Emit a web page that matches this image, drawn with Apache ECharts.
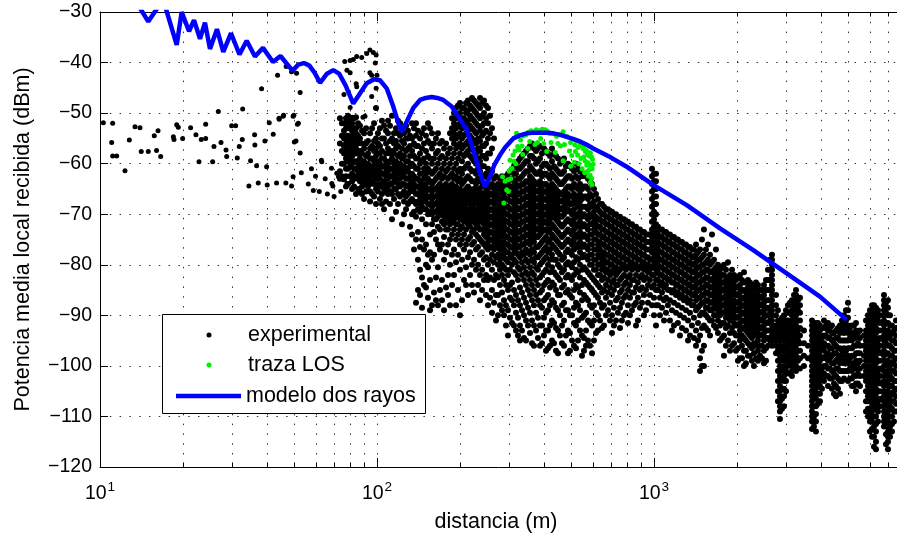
<!DOCTYPE html>
<html><head><meta charset="utf-8">
<script src="https://cdn.jsdelivr.net/npm/echarts@6/dist/echarts.min.js"></script>
<style>html,body{margin:0;padding:0;background:#fff}#c{width:897px;height:537px}</style>
</head><body><div id="c"></div>
<script>
const FONT = "'Liberation Sans', Arial, Helvetica, sans-serif";
const X_MIN = 10, X_MAX = 7540;
const Y_MIN = -120, Y_MAX = -30, Y_STEP = 10;
const xMajorTicks = [10, 100, 1000];
const xMinorTicks = [20,30,40,50,60,70,80,90,200,300,400,500,600,700,800,900,2000,3000,4000,5000,6000,7000];
const yTicks = [-120,-110,-100,-90,-80,-70,-60,-50,-40,-30];
const seriesNames = ['experimental', 'traza LOS', 'modelo dos rayos'];
const xTitle = 'distancia (m)';
const yTitle = 'Potencia media local recibida (dBm)';

// two-ray model curve [distance m, dBm]
const modelCurve = [[13.0,-26.5],[14.94,-31.9],[16.9,-27.5],[18.92,-36.5],[19.72,-30.0],[20.96,-33.8],[21.85,-31.6],[22.96,-35.3],[23.93,-32.1],[24.95,-37.3],[26.44,-33.4],[27.87,-37.9],[29.72,-34.2],[31.88,-38.4],[33.85,-35.7],[36.27,-38.8],[38.77,-37.1],[42.13,-39.9],[44.83,-38.7],[49.54,-41.6],[52,-40.4],[54.5,-40.1],[57,-40.6],[59.5,-42.0],[62.27,-44.0],[66,-42.2],[69.5,-41.5],[73,-42.2],[77,-44.5],[82.1,-48.1],[86.8,-46.1],[91.8,-44.1],[97.5,-43.3],[102.5,-43.5],[108.4,-45.1],[114.5,-48.7],[119.4,-52.0],[122.8,-53.7],[128.0,-51.7],[135.2,-49.0],[143.0,-47.4],[150,-47.0],[157.6,-46.8],[165,-47.0],[173.5,-47.4],[186.1,-48.7],[196.6,-50.7],[210.8,-53.3],[222.7,-57.3],[235.4,-61.9],[245.4,-64.6],[255.9,-62.6],[265,-60.3],[278,-58.3],[290,-56.8],[310.5,-55.0],[328,-54.4],[347.1,-54.0],[365,-53.9],[387.7,-53.9],[410,-53.9],[433,-54.0],[460,-54.3],[483.9,-54.7],[510,-55.1],[540.6,-55.6],[570,-56.2],[603.7,-57.0],[700,-58.8],[797,-60.6],[994,-64.2],[1313,-68.2],[1731,-72.8],[2283,-77.1],[3014,-81.7],[3975,-86.3],[4963,-90.9]];

// LOS trace [distance m, dBm]
const losPoints = [[284,-62.6],[287,-67.8],[290,-63.5],[294,-65.2],[297,-63.2],[300,-61.5],[302,-59.3],[305,-61],[307,-60.9],[310,-58.3],[312,-59.5],[315,-57.5],[319,-54.0],[322,-56.6],[326,-57.3],[330,-55.3],[334,-56.5],[338,-54.5],[345,-54.3],[352,-53.8],[360,-53.5],[368,-53.7],[376,-53.3],[385,-53.5],[395,-53.2],[405,-53.3],[412,-53.6],[420,-54.0],[432,-54.1],[445,-54.6],[458,-54.3],[470,-53.7],[484,-54.6],[350,-57.0],[372,-56.2],[390,-55.0],[410,-57.6],[440,-57.8],[460,-56.5],[470,-59.4],[500,-55.8],[510,-55.2],[518,-56.3],[525,-55.5],[532,-56.8],[540,-55.9],[548,-56.4],[554,-57.0],[560,-56.5],[565,-57.6],[570,-57.4],[575,-58.2],[580,-57.8],[585,-58.5],[590,-57.9],[595,-58.7],[600,-59.2],[603,-60.1],[598,-61.0],[592,-60.5],[585,-61.2],[578,-59.8],[572,-60.3],[565,-59.5],[558,-58.7],[588,-62.3],[595,-62.9],[580,-62.5],[545,-59.0],[530,-58.3],[515,-59.7],[500,-60.5],[298,-65.5],[304,-63],[317,-60],[336,-58.2],[356,-55.6],[380,-55.8],[400,-56],[425,-55.8],[450,-56],[475,-56.2],[495,-57.5],[505,-58.4],[520,-57.6],[535,-60],[550,-61],[562,-61.8],[575,-61.5],[598,-64.1],[590,-63.7]];

// experimental, sparse part [distance m, dBm]
const expSparse = [[10.28,-51.9],[11.11,-52.0],[11.02,-55.8],[11.11,-58.5],[11.49,-58.5],[12.31,-61.4],[12.76,-55.3],[13.38,-52.7],[13.94,-52.9],[14.09,-57.6],[14.94,-57.6],[15.70,-54.5],[16.20,-53.5],[16.0,-57.4],[16.56,-58.6],[18.40,-54.7],[18.5,-55.2],[18.92,-52.3],[19.17,-52.8],[19.88,-55.0],[21.24,-52.9],[22.20,-54.3],[22.77,-59.6],[23.21,-55.2],[24.07,-55.0],[24.07,-52.2],[25.51,-59.6],[25.79,-56.6],[26.74,-49.7],[27.34,-55.8],[28.51,-57.3],[28.67,-58.6],[29.88,-52.5],[30.89,-52.5],[31.30,-58.9],[31.83,-56.6],[32.63,-55.2],[32.74,-49.2],[34.49,-64.4],[34.97,-59.4],[36.15,-54.3],[36.24,-56.3],[36.76,-60.4],[37.26,-63.8],[38.31,-45.2],[39.39,-55.5],[39.95,-60.6],[40.15,-64.2],[40.83,-51.9],[42.21,-54.2],[43.40,-63.8],[43.76,-42.5],[44.34,-51.2],[45.84,-50.6],[46.88,-63.8],[49.16,-64.4],[47.0,-40.8],[49.16,-41.8],[51.25,-42.1],[50.11,-50.4],[51.6,-52.2],[49.8,-62.6],[50.3,-55.7],[52.8,-45.9],[51.0,-55.5],[52.8,-57.9],[53.3,-61.8],[56.5,-64.0],[58.9,-65.3],[61.9,-65.5],[63.2,-59.6],[66.2,-66.0],[68.7,-63.9],[69.3,-64.4],[71.6,-61.9],[72.6,-62.6],[75.4,-63.1],[77.9,-63.9],[52,-52],[63,-59.3],[68.5,-60.9],[60,-62.5],[65,-63],[70,-66.5],[74,-65.5],[58,-61],[76.5,-39.8],[80,-39.6],[82.1,-39.4],[84.5,-38.8],[88.1,-39.0],[91.8,-38.2],[94.3,-37.5],[97.0,-38.0],[99.3,-38.5],[77.9,-41.5],[80,-42.0],[84.1,-44.2],[84.5,-44.8],[94.3,-42.0],[95.7,-42.5],[98.6,-40.1],[100,-42.5],[99.3,-45.1],[95.7,-46.7],[76,-46.3],[80,-48.9],[81.5,-50.8],[89,-50.8],[90.5,-50.6],[44.3,-51.0],[46,-50.4],[49.8,-50.6]];

// experimental, dense part: [distance m, [dBm values at that distance]]
const expColumns = [
[73.5,[-51,-56,-61.5,-63]],
[76,[-52,-53.5,-55,-56.5,-58,-60,-63.1]],
[78.6,[-50.5,-52,-53,-54.5,-55.5,-57,-58.5,-59.5,-61,-64]],
[81.3,[-52,-53.5,-54.5,-56,-57,-58.5,-60,-62,-63.5,-65]],
[84,[-50.8,-53,-54,-55.5,-57,-58,-59.5,-61,-62.5,-66]],
[86.8,[-52.5,-55,-57.5,-59,-60.5,-62,-63.5,-65.5]],
[89.8,[-54,-57,-59.5,-61,-62.5,-64,-67]],
[92.8,[-55.5,-58,-60,-61.5,-63,-64.5]],
[96,[-53,-56.5,-59,-60.5,-62,-63.5,-66]],
[99.2,[-49,-55,-57,-58.5,-60,-61.5,-63,-65,-68]],
[102.5,[-53,-56.5,-58,-60,-61.5,-63,-64.5,-67]],
[106,[-52.5,-55,-59,-60.5,-62,-63.5,-65,-69]],
[109.6,[-51.5,-54,-57,-60,-61.5,-63,-64.5,-66]],
[113.3,[-50.5,-55,-57.5,-59,-61,-62.5,-64,-66,-71]],
[117.1,[-53,-55.5,-57,-59.5,-61,-63,-65,-69.5]],
[121.1,[-52,-54.5,-58,-60,-61.5,-63,-64.5,-66.5]],
[125.2,[-54,-56,-58.5,-60.5,-62,-64,-65.5,-67.5,-70]],
[129.4,[-53.5,-55,-57,-59.5,-61.5,-63,-64.5,-66,-68]],
[133.8,[-52,-55,-57.5,-60,-62,-63.5,-65,-67,-70,-74]],
[138.3,[-52,-54.5,-56.5,-59,-61,-63,-64.5,-66,-68,-70.5,-75,-87.5]],
[143,[-55,-58,-60,-62,-63.5,-65,-66.5,-68,-69.5,-76.5,-81,-86]],
[147.8,[-53,-56,-59,-61,-63,-64.5,-66,-67.5,-69,-77,-84]],
[152.8,[-52,-55.5,-58.5,-61,-63,-65,-66.5,-68,-70,-78,-80.5,-86.5]],
[158,[-54,-57,-60,-62,-64,-65.5,-67,-68.5,-70,-72,-79,-88]],
[163.3,[-55,-58,-61,-63,-65,-66.5,-68,-69.5,-71,-75,-82.5,-87]],
[168.8,[-56,-59,-62,-64,-65.5,-67,-68.5,-70,-73,-77,-85]],
[174.6,[-57,-60,-62.5,-64.5,-66,-67.5,-69,-70.5,-72,-74.5,-79,-89]],
[180.5,[-58,-61,-63,-65,-66.5,-68,-69.5,-71,-73,-76,-82,-86]],
[186.6,[-51,-53,-55,-59,-62,-64,-65.5,-67,-68.5,-70,-71.5,-74,-78,-84]],
[192.9,[-49,-51,-53,-55,-57,-60,-62.5,-64.5,-66,-67.5,-69,-70.5,-72,-75,-79.5,-88]],
[199.4,[-48,-50,-52,-54,-56,-58,-61,-63,-65,-66.5,-68,-69.5,-71,-73,-76,-81,-90]],
[206.1,[-49,-51,-52.5,-54.5,-56.5,-58.5,-61,-63.5,-65.5,-67,-68.5,-70,-71.5,-74,-77,-83]],
[213.1,[-47.5,-49.5,-51.5,-53.5,-55.5,-57.5,-60,-62.5,-64.5,-66,-67.5,-69,-70.5,-72,-75,-78.5,-86]],
[220.3,[-47,-49,-51,-53,-55,-57,-59,-61.5,-63.5,-65.5,-67,-68.5,-70,-71.5,-73.5,-76,-80,-84]],
[227.8,[-48,-50,-52,-54,-56,-58,-60,-62,-64,-66,-67.5,-69,-70.5,-72,-74,-77,-81]],
[235.5,[-47,-49,-51,-53.5,-55.5,-57.5,-59.5,-61.5,-63.5,-65.5,-67,-68.5,-70,-71.5,-73,-75,-78,-82,-87]],
[243.4,[-47.5,-50,-52,-54,-56.5,-58.5,-60.5,-62.5,-64.5,-66,-67.5,-69,-70.5,-72,-74,-76,-79,-83]],
[251.6,[-49,-52,-55,-58,-61,-63,-65,-66.5,-68,-69.5,-71,-72.5,-74,-75.5,-77,-80,-83,-88]],
[260.1,[-53,-57,-61.5,-64,-66,-67.5,-69,-70.5,-72,-73.5,-75,-76.5,-78,-81,-85,-89.5]],
[268.9,[-62.5,-64.5,-66,-67.5,-69,-70.5,-72,-73.5,-75,-76.5,-78.5,-82,-86,-91]],
[278,[-63,-65,-66.5,-68,-69.5,-71,-72.5,-74,-75.5,-77,-79,-81,-84,-88]],
[287.4,[-63.5,-65,-66.5,-68,-69.5,-71,-72.5,-74,-75.5,-77,-78.5,-80.5,-83,-87,-90]],
[297.1,[-62,-64,-65.5,-67,-68.5,-70,-71.5,-73,-74.5,-76,-77.5,-79.5,-82,-85,-89,-94]],
[307.2,[-61,-63,-64.5,-66,-67.5,-69,-70.5,-72,-73.5,-75,-76.5,-78,-80,-83.5,-87,-91.5]],
[317.6,[-60,-62,-64,-65.5,-67,-68.5,-70,-71.5,-73,-74.5,-76,-77.5,-79.5,-82,-86,-89.5,-93]],
[328.2,[-59,-61,-63,-64.5,-66,-67.5,-69,-70.5,-72,-73.5,-75,-76.5,-78.5,-81,-84.5,-88,-92,-95]],
[339.4,[-58,-60,-62,-64,-65.5,-67,-68.5,-70,-71.5,-73,-74.5,-76,-78,-80.5,-83,-86.5,-90,-94.5]],
[350.9,[-57,-59.5,-61.5,-63.5,-65,-66.5,-68,-69.5,-71,-72.5,-74,-75.5,-77.5,-79.5,-82,-85,-88.5,-92]],
[362.7,[-56,-58.5,-61,-63,-64.5,-66,-67.5,-69,-70.5,-72,-73.5,-75,-77,-79,-81.5,-84,-87,-91,-95.5]],
[375,[-57.5,-60,-62,-64,-65.5,-67,-68.5,-70,-71.5,-73,-74.5,-76.5,-78.5,-80.5,-83,-86,-89.5,-93]],
[387.7,[-56.5,-59,-61.5,-63.5,-65,-66.5,-68,-69.5,-71,-72.5,-74,-76,-78,-80,-82.5,-85.5,-88,-92,-96]],
[400.8,[-57,-60,-62,-64,-65.5,-67,-68.5,-70,-71.5,-73,-75,-77,-79,-81.5,-84,-87,-90.5,-94]],
[414.3,[-58,-60.5,-62.5,-64.5,-66,-67.5,-69,-70.5,-72,-73.5,-75.5,-77.5,-80,-83,-86,-89,-93,-96.5]],
[428.3,[-57,-59.5,-62,-64,-65.5,-67,-68.5,-70,-72,-74,-76,-78,-80.5,-83.5,-87,-91,-95]],
[442.8,[-58.5,-61,-63,-65,-66.5,-68,-69.5,-71,-73,-75,-77,-79,-82,-85,-88.5,-92.5,-97]],
[457.7,[-60,-62,-64,-66,-67.5,-69,-70.5,-72,-74,-76,-78,-80.5,-83,-86,-90,-94]],
[473.2,[-59,-61.5,-63.5,-65.5,-67,-68.5,-70,-72,-74,-76,-78.5,-81,-84,-87.5,-91,-96]],
[489.2,[-60,-62.5,-64.5,-66,-67.5,-69,-71,-73,-75,-77,-79.5,-82,-85,-89,-93,-97.5]],
[505.8,[-61,-63,-65,-66.5,-68,-70,-72,-74,-76,-78,-80.5,-83,-86.5,-90,-95]],
[522.9,[-60,-62.5,-64.5,-66.5,-68,-70,-72,-74,-76,-78.5,-81,-84,-87.5,-92,-96.5]],
[540.6,[-61.5,-64,-66,-67.5,-69.5,-71.5,-73.5,-75.5,-77.5,-80,-82.5,-85.5,-89,-93]],
[558.8,[-62,-64.5,-66.5,-68.5,-70,-72,-74,-76,-78,-80.5,-83,-86,-90,-94.5,-97]],
[577.8,[-63,-65,-67,-69,-71,-73,-75,-77,-79,-81.5,-84,-87,-91,-95]],
[597.3,[-64,-66.5,-68.5,-70.5,-72,-74,-76,-78,-80,-82.5,-85,-88.5,-92,-97.5]],
[617.5,[-66,-68.5,-70.5,-72,-73.5,-75,-77,-79,-81,-83.5,-86,-89.5,-93.5]],
[638.3,[-68,-69.5,-71,-72.5,-74,-75.5,-77,-78.5,-80,-82,-84.5,-87.5,-91]],
[659.9,[-68.5,-70,-71.5,-73,-74.5,-76,-77.5,-79,-80.5,-82.5,-85,-88,-92]],
[682.3,[-69,-70.5,-72,-73.5,-75,-76.5,-78,-79.5,-81,-83,-85.5,-89]],
[705.3,[-69.5,-71,-72.5,-74,-75.5,-77,-78.5,-80,-81.5,-83.5,-86,-90,-93.5]],
[729.2,[-70,-71.5,-73,-74.5,-76,-77.5,-79,-80.5,-82,-84,-87,-91]],
[753.8,[-70.5,-72,-73.5,-75,-76.5,-78,-79.5,-81,-83,-85.5,-88.5,-92.5]],
[779.3,[-71,-72.5,-74,-75.5,-77,-78.5,-80,-82,-84,-86.5,-90]],
[805.7,[-71.5,-73,-74.5,-76,-77.5,-79,-80.5,-82.5,-85,-88,-91.5]],
[832.9,[-72,-73.5,-75,-76.5,-78,-79.5,-81,-83,-85.5,-89]],
[861.1,[-72.5,-74,-75.5,-77,-78.5,-80,-82,-84.5,-87.5,-92]],
[890.2,[-73,-74.5,-76,-77.5,-79,-80.5,-82.5,-85,-88.5]],
[920.4,[-73.5,-75,-76.5,-78,-79.5,-81,-83,-86,-90]],
[951.4,[-74,-75.5,-77,-78.5,-80,-81.5,-84,-87.5]],
[983.5,[-61,-62.5,-64,-65.5,-67,-68.5,-70,-71.5,-73,-74.5,-76,-77.5,-79,-80.5,-82,-84.5,-88]],
[1017,[-62,-63.5,-65,-66.5,-68,-70,-72,-73.5,-75,-76.5,-78,-79.5,-81,-83,-85,-88,-92]],
[1051,[-73,-74.5,-76,-77.5,-79,-80.5,-82,-84,-86.5,-90]],
[1087,[-73.5,-75,-76.5,-78,-79.5,-81,-82.5,-84.5,-87,-91]],
[1123,[-74,-75.5,-77,-78.5,-80,-81.5,-83,-85,-88]],
[1161,[-74.5,-76,-77.5,-79,-80.5,-82,-83.5,-85.5,-89,-93]],
[1201,[-75,-76.5,-78,-79.5,-81,-82.5,-84,-86,-89.5]],
[1241,[-75.5,-77,-78.5,-80,-81.5,-83,-84.5,-86.5,-90,-94]],
[1283,[-76,-77.5,-79,-80.5,-82,-83.5,-85,-87,-90.5]],
[1327,[-76.5,-78,-79.5,-81,-82.5,-84,-85.5,-87.5,-91,-95]],
[1371,[-77,-78.5,-80,-81.5,-83,-84.5,-86,-88,-92]],
[1418,[-76,-78,-79.5,-81,-82.5,-84,-85.5,-87,-89,-93,-96]],
[1466,[-77,-79,-80.5,-82,-83.5,-85,-86.5,-88,-90,-94,-98.5,-101]],
[1515,[-73,-78,-80,-81.5,-83,-84.5,-86,-87.5,-89.5,-92,-96,-100]],
[1566,[-76,-79,-81,-82.5,-84,-85.5,-87,-88.5,-90.5,-93]],
[1620,[-74,-79.5,-81.5,-83,-84.5,-86,-87.5,-89,-91]],
[1674,[-77,-80.5,-82,-83.5,-85,-86.5,-88,-90,-92.5]],
[1731,[-81,-82.5,-84,-85.5,-87,-88.5,-90,-92,-95]],
[1789,[-80,-82,-83.5,-85,-86.5,-88,-89.5,-91.5,-94,-98]],
[1850,[-79.5,-82.5,-84,-85.5,-87,-88.5,-90,-92,-95]],
[1913,[-81,-83,-84.5,-86,-87.5,-89,-90.5,-92.5,-96]],
[1977,[-83,-84.5,-86,-87.5,-89,-90.5,-92,-94,-97]],
[2044,[-82,-84,-85.5,-87,-88.5,-90,-91.5,-93,-95,-98.5]],
[2113,[-81.5,-83.5,-85,-86.5,-88,-89.5,-91,-92.5,-94.5,-97,-100]],
[2184,[-83,-84.5,-86,-87.5,-89,-90.5,-92,-93.5,-95.5,-98]],
[2258,[-84,-85.5,-87,-88.5,-90,-91.5,-93,-94.5,-96.5,-99]],
[2335,[-83.5,-85,-86.5,-88,-89.5,-91,-92.5,-94,-96,-98.5]],
[2414,[-85,-86.5,-88,-89.5,-91,-92.5,-94,-96,-98]],
[2495,[-84,-86,-87.5,-89,-90.5,-92,-93.5,-95,-97,-99.5]],
[2580,[-81,-83,-85,-87,-88.5,-90,-91.5,-93,-94.5,-96]],
[2667,[-78,-79,-80,-81,-82,-83,-84,-85,-86,-87,-88,-89,-90,-91,-92,-93,-94,-95,-96]],
[2757,[-86,-88,-90,-92,-93,-94,-95,-96,-97.5]],
[2850,[-91,-92,-93,-94,-95,-96,-97,-98,-99,-100,-101,-102,-103,-104,-105,-106,-107,-108,-109,-110.5]],
[2947,[-90,-91,-92,-93,-94,-95,-96,-97,-98,-99,-100,-101,-102,-103,-104.5,-106,-108]],
[3046,[-88,-89.5,-91,-92,-93,-94,-95,-96,-97,-98,-99,-100,-101.5]],
[3149,[-87,-88,-89,-90,-91,-92,-93,-94,-95,-96,-97,-98,-99,-100,-101,-102]],
[3256,[-85,-86,-87,-88,-89,-90,-91,-92,-93,-94,-95,-96,-97,-98,-99,-100,-101]],
[3366,[-86.5,-88,-89.5,-91,-92.5,-94,-95.5,-97,-98.5,-100.5]],
[3479,[-93,-95.5,-98,-100]],
[3597,[-96,-98.5]],
[3719,[-91,-92,-93,-94,-95,-96,-97,-98,-99,-100,-101,-102,-103,-104,-105,-106,-107,-108,-109,-110,-111,-112.5]],
[3844,[-91.5,-92.5,-93.5,-94.5,-95.5,-96.5,-97.5,-98.5,-99.5,-100.5,-101.5,-102.5,-103.5,-104.5,-105.5,-106.5,-108,-109.5,-111,-113]],
[3974,[-92,-93,-94,-95,-96,-97,-98,-99,-100,-101,-102,-103,-104,-105.5,-107]],
[4109,[-91,-92.5,-94,-95.5,-97,-98.5,-100,-101.5,-103]],
[4248,[-91.5,-93,-94.5,-96,-97.5,-99,-100.5,-102,-104]],
[4391,[-92,-93.5,-95,-96.5,-98,-99.5,-101,-102.5,-104.5]],
[4540,[-93,-94.5,-96,-97.5,-99,-100.5,-102,-104,-106]],
[4693,[-92,-93.5,-95,-96.5,-98,-99.5,-101,-103,-105.5]],
[4852,[-90,-92,-93.5,-95,-96.5,-98,-99.5,-101,-102.5]],
[5016,[-87.5,-89,-90.5,-92,-93.5,-95,-96.5,-98,-99.5,-101,-103]],
[5185,[-92,-93.5,-95,-96.5,-98,-99.5,-101,-102.5,-104]],
[5361,[-91.5,-93,-94.5,-96,-97.5,-99,-100.5,-102,-103.5,-105]],
[5542,[-93,-94.5,-96,-97.5,-99,-100.5,-102,-104]],
[5729,[-94,-96,-98,-100,-102]],
[5923,[-90,-91,-92,-93,-94,-95,-96,-97,-98,-99,-100,-101,-102,-103,-104,-105,-106,-107,-108.5,-110]],
[6124,[-88,-89,-90,-91,-92,-93,-94,-95,-96,-97,-98,-99,-100,-101,-102,-103,-104,-105,-106,-107,-108,-109,-110,-111,-112.5,-114]],
[6331,[-88.5,-89.5,-90.5,-91.5,-92.5,-93.5,-94.5,-95.5,-96.5,-97.5,-98.5,-99.5,-100.5,-101.5,-102.5,-103.5,-104.5,-105.5,-106.5,-107.5,-108.5,-110,-111.5,-113,-115,-116.5]],
[6545,[-90,-91.5,-93,-94.5,-96,-97.5,-99,-100.5,-102,-103.5,-105,-106.5,-108]],
[6766,[-86,-87,-88,-89,-90,-91,-92,-93,-94,-95,-96,-97,-98,-99,-100,-101,-102,-103,-104,-105,-106,-107,-108,-109,-110,-111,-112]],
[6995,[-87,-88.5,-90,-91.5,-93,-94.5,-96,-97.5,-99,-100,-101,-102,-103,-104,-105,-106,-107,-108,-109,-110,-111,-112,-113,-114,-115,-116.5]],
[7232,[-92,-93.5,-95,-96.5,-98,-99.5,-101,-102.5,-104,-105.5,-107,-108.5,-110,-111.5,-113]],
[7476,[-91,-92.5,-94,-95.5,-97,-98.5,-100,-101.5,-103,-104.5,-106,-107.5,-109]]
];

// experimental, dense part, in-between columns
const expColumnsB = [
[74.7,[-52,-54.5,-57.5,-60,-62.5]],
[77.3,[-51,-53,-54.5,-56,-57.5,-59,-61,-62.5,-64.5]],
[79.9,[-51.5,-53,-55,-56.5,-58,-59,-60.5,-62.5]],
[82.6,[-51,-53,-55,-56.5,-58,-59.5,-61,-63,-64.5]],
[85.4,[-52,-54.5,-56,-58,-60,-61.5,-63,-65]],
[88.3,[-53.5,-56,-58,-60,-61.5,-63,-64.5,-66]],
[91.3,[-53,-56,-58.5,-60.5,-62,-63.5,-65.5]],
[94.4,[-54,-57,-59,-61,-62.5,-64,-65.5,-67.5]],
[97.6,[-52,-55.5,-57.5,-59.5,-61,-62.5,-64,-66.5]],
[100.8,[-54,-56,-58,-59.5,-61,-62.5,-64,-65.5]],
[104.2,[-51.5,-55,-57.5,-59,-60.5,-62,-64,-66,-68]],
[107.8,[-53.5,-56,-58,-59.5,-61,-62.5,-64,-65.5,-67.5]],
[111.4,[-52.5,-55.5,-58,-59.5,-61,-62.5,-64,-65.5,-68]],
[115.2,[-54,-56,-58,-60,-62,-63.5,-65,-67]],
[119.1,[-51.5,-54,-56.5,-58.5,-60.5,-62,-64,-66,-68]],
[123.1,[-53,-55.5,-57,-59,-61,-62.5,-64,-66,-72]],
[127.3,[-52.5,-55,-57.5,-59.5,-61,-63,-64.5,-66.5,-69]],
[131.6,[-54.5,-56.5,-58.5,-60.5,-62.5,-64,-65.5,-67.5,-72.5]],
[136,[-53,-56,-58.5,-60.5,-62.5,-64,-65.5,-67.5,-69.5,-77]],
[140.6,[-53.5,-56.5,-59,-61,-63,-64.5,-66,-67.5,-69,-73.5,-79,-85]],
[145.4,[-54,-57,-59.5,-62,-64,-65.5,-67,-68.5,-71,-75,-82.5,-88.5]],
[150.3,[-54.5,-57.5,-60,-62,-64,-65.5,-67,-69,-72,-76,-80,-84.5]],
[155.4,[-53,-56,-59,-61.5,-63.5,-65,-66.5,-68,-69.5,-74,-77.5,-83,-89]],
[160.6,[-56,-59,-61.5,-63.5,-65,-66.5,-68,-69.5,-71,-73.5,-78,-85.5]],
[166,[-54,-57.5,-60,-62.5,-64.5,-66,-67.5,-69,-70.5,-72.5,-76,-80.5,-88]],
[171.6,[-55.5,-58.5,-61,-63,-65,-66.5,-68,-69.5,-71.5,-76,-83,-87]],
[177.5,[-56,-59,-61.5,-64,-65.5,-67,-68.5,-70,-71.5,-73,-77.5,-84.5]],
[183.5,[-54,-57,-60,-62.5,-64.5,-66,-67.5,-69,-70.5,-72,-75,-80,-88]],
[189.7,[-50,-52,-54,-56,-58,-61,-63,-65,-66.5,-68,-69.5,-71,-73,-77,-82]],
[196.1,[-48.5,-50.5,-52.5,-54.5,-56.5,-59,-61.5,-63.5,-65.5,-67,-68.5,-70,-72,-74,-78,-85]],
[202.7,[-49,-51,-53,-55,-57,-59.5,-62,-64,-66,-67.5,-69,-70.5,-72.5,-75,-79,-87]],
[209.6,[-48,-50,-52,-54,-56,-58,-60.5,-63,-65,-66.5,-68,-69.5,-71,-73,-76,-80.5,-84]],
[216.7,[-48.5,-50.5,-52.5,-54.5,-56.5,-58.5,-61,-63,-65,-66.5,-68,-69.5,-71,-72.5,-74.5,-77.5,-82]],
[224,[-47.5,-49.5,-51.5,-53.5,-55.5,-57.5,-59.5,-61.5,-63.5,-65,-66.5,-68,-69.5,-71,-73,-75.5,-79,-85.5]],
[231.6,[-48.5,-50.5,-52.5,-55,-57,-59,-61,-63,-65,-66.5,-68,-69.5,-71,-72.5,-74.5,-76.5,-80,-84]],
[239.5,[-48,-50.5,-52.5,-54.5,-56.5,-58.5,-60.5,-62.5,-64.5,-66.5,-68,-69.5,-71,-73,-75.5,-77.5,-81,-85]],
[247.5,[-48.5,-51,-53.5,-56,-59,-62,-64,-65.5,-67,-68.5,-70,-71.5,-73,-74.5,-76.5,-78.5,-82,-86]],
[255.8,[-50.5,-54,-58,-62,-64.5,-66,-67.5,-69,-70.5,-72,-73.5,-75,-76.5,-79,-82.5,-86.5]],
[264.5,[-55,-63,-65,-66.5,-68,-69.5,-71,-72.5,-74,-75.5,-77,-79.5,-83,-87.5]],
[273.4,[-64,-65.5,-67,-68.5,-70,-71.5,-73,-74.5,-76,-78,-80,-82.5,-86,-90]],
[282.7,[-62.5,-64,-65.5,-67,-68.5,-70,-71.5,-73,-74.5,-76,-78,-80,-82,-85.5,-89]],
[292.2,[-62.5,-64,-65.5,-67,-68.5,-70,-71.5,-73,-74.5,-76,-77.5,-79,-81,-84,-88,-92]],
[302.1,[-61.5,-63,-64.5,-66,-67.5,-69,-70.5,-72,-73.5,-75,-76.5,-78.5,-81,-84,-86.5,-90.5]],
[312.3,[-60.5,-62,-63.5,-65,-66.5,-68,-69.5,-71,-72.5,-74,-75.5,-77,-79,-81.5,-85,-88,-92]],
[322.9,[-59.5,-61,-63,-64.5,-66,-67.5,-69,-70.5,-72,-73.5,-75,-76.5,-78,-80.5,-83,-87,-90.5,-94]],
[333.7,[-58.5,-60.5,-62.5,-64,-65.5,-67,-68.5,-70,-71.5,-73,-74.5,-76,-77.5,-79.5,-82,-85.5,-89,-93]],
[345.1,[-57.5,-59.5,-61.5,-63.5,-65,-66.5,-68,-69.5,-71,-72.5,-74,-75.5,-77,-79,-81.5,-84,-87.5,-91,-95]],
[356.8,[-56.5,-58.5,-60.5,-62.5,-64,-65.5,-67,-68.5,-70,-71.5,-73,-74.5,-76,-78,-80.5,-83,-86,-89.5,-93.5]],
[368.8,[-57,-59,-61.5,-63.5,-65,-66.5,-68,-69.5,-71,-72.5,-74,-75.5,-77.5,-79.5,-82,-85,-88,-92,-96]],
[381.3,[-57,-59.5,-62,-64,-65.5,-67,-68.5,-70,-71.5,-73,-74.5,-76.5,-78.5,-81,-84,-87,-90.5,-94.5]],
[394.2,[-58,-60.5,-62.5,-64.5,-66,-67.5,-69,-70.5,-72,-73.5,-75.5,-77.5,-79.5,-82,-85,-88.5,-92,-95.5]],
[407.5,[-57.5,-60,-62,-64,-65.5,-67,-68.5,-70,-71.5,-73,-74.5,-76.5,-78.5,-81,-83.5,-86.5,-89.5,-93,-97]],
[421.3,[-58.5,-61,-63,-65,-66.5,-68,-69.5,-71,-73,-75,-77,-79,-81.5,-84.5,-88,-92,-96]],
[435.5,[-58,-60.5,-62.5,-64.5,-66,-67.5,-69,-70.5,-72.5,-74.5,-76.5,-79,-81.5,-84,-87.5,-91.5,-95.5]],
[450.2,[-59,-61.5,-63.5,-65.5,-67,-68.5,-70,-71.5,-73.5,-75.5,-77.5,-80,-82.5,-86,-89,-93,-97.5]],
[465.4,[-59.5,-62,-64,-66,-67.5,-69,-70.5,-72.5,-74.5,-76.5,-79,-81.5,-84.5,-88,-92,-95.5]],
[481.1,[-60.5,-63,-65,-66.5,-68,-69.5,-71.5,-73.5,-75.5,-77.5,-80,-82.5,-85.5,-89,-94]],
[497.4,[-60.5,-62.5,-64.5,-66.5,-68,-69.5,-71.5,-73.5,-75.5,-77.5,-80,-82.5,-86,-90,-93.5,-97]],
[514.3,[-61.5,-64,-66,-67.5,-69,-71,-73,-75,-77,-79.5,-82,-85,-88.5,-91.5,-96]],
[531.7,[-61,-63,-65,-67,-68.5,-70.5,-72.5,-74.5,-76.5,-79,-81.5,-84.5,-88,-91,-95]],
[549.7,[-62.5,-65,-67,-68.5,-70.5,-72.5,-74.5,-76.5,-78.5,-81,-84,-87,-90.5,-94,-98]],
[568.2,[-62.5,-64.5,-66.5,-68.5,-70.5,-72.5,-74.5,-76.5,-78.5,-81,-83.5,-86.5,-89.5,-93,-96]],
[587.4,[-63.5,-66,-68,-70,-72,-74,-76,-78,-80,-82,-84.5,-88,-91.5,-96]],
[607.3,[-65,-67.5,-69.5,-71.5,-73,-75,-77,-79,-81,-83,-85.5,-88,-91,-95]],
[627.9,[-67,-69,-71,-72.5,-74,-76,-78,-80,-82,-84,-86.5,-90,-93]],
[649,[-68,-70,-71.5,-73,-74.5,-76,-78,-79.5,-81,-83,-85.5,-88.5,-92.5]],
[671,[-69,-70.5,-72,-73.5,-75,-76.5,-78,-79.5,-81.5,-84,-86.5,-90]],
[694,[-69.5,-71,-72.5,-74,-75.5,-77,-78.5,-80,-82,-84.5,-87.5,-91]],
[717,[-70,-71.5,-73,-74.5,-76,-77.5,-79,-81,-83,-85,-88.5,-92]],
[741,[-70.5,-72,-73.5,-75,-76.5,-78,-79.5,-81.5,-84,-86.5,-89.5]],
[766,[-71,-72.5,-74,-75.5,-77,-78.5,-80.5,-82.5,-85,-87.5,-91]],
[792,[-71.5,-73,-74.5,-76,-77.5,-79,-81,-83.5,-86,-89.5]],
[819,[-72,-73.5,-75,-76.5,-78,-80,-82,-84,-86.5,-90]],
[847,[-72.5,-74,-75.5,-77,-78.5,-80.5,-83,-85.5,-88]],
[875,[-73,-74.5,-76,-77.5,-79,-81,-83.5,-86.5,-91]],
[905,[-73.5,-75,-76.5,-78,-80,-82,-84.5,-87.5]],
[936,[-74,-75.5,-77,-78.5,-80.5,-82.5,-85,-89]],
[967,[-74,-75.5,-77,-79,-81,-83,-86]],
[1000,[-62,-63.5,-65,-66.5,-68,-69.5,-71,-72.5,-74,-75.5,-77,-78.5,-80,-82,-84,-86.5,-90]],
[1034,[-72.5,-74,-75.5,-77,-78.5,-80,-81.5,-83,-85,-88]],
[1069,[-73,-74.5,-76,-77.5,-79,-80.5,-82,-83.5,-85.5,-88.5]],
[1105,[-73.5,-75,-76.5,-78,-79.5,-81,-82.5,-84,-86.5,-89.5]],
[1142,[-74,-75.5,-77,-78.5,-80,-81.5,-83,-85,-87,-91]],
[1181,[-74.5,-76,-77.5,-79,-80.5,-82,-83.5,-85,-87.5,-92]],
[1220,[-75,-76.5,-78,-79.5,-81,-82.5,-84,-85.5,-88,-91.5]],
[1262,[-75.5,-77,-78.5,-80,-81.5,-83,-84.5,-86,-88.5,-92.5]],
[1305,[-76,-77.5,-79,-80.5,-82,-83.5,-85,-86.5,-89,-93]],
[1349,[-76.5,-78,-79.5,-81,-82.5,-84,-85.5,-87,-89.5,-94]],
[1394,[-77,-78.5,-80,-81.5,-83,-84.5,-86,-88,-90.5,-94.5]],
[1442,[-77.5,-79,-80.5,-82,-83.5,-85,-86.5,-88.5,-91.5,-95]],
[1490,[-75,-78.5,-80,-81.5,-83,-84.5,-86,-87.5,-89.5,-92.5,-97,-100]],
[1540,[-77,-79.5,-81,-82.5,-84,-85.5,-87,-88.5,-90,-92.5]],
[1593,[-78,-80,-81.5,-83,-84.5,-86,-87.5,-89,-91,-94]],
[1647,[-79,-81,-82.5,-84,-85.5,-87,-88.5,-90,-92]],
[1702,[-80,-81.5,-83,-84.5,-86,-87.5,-89,-91,-93.5]],
[1760,[-80.5,-82,-83.5,-85,-86.5,-88,-89.5,-91.5,-94.5]],
[1819,[-81,-83,-84.5,-86,-87.5,-89,-90.5,-92.5,-96]],
[1881,[-82,-83.5,-85,-86.5,-88,-89.5,-91,-93.5,-97]],
[1945,[-82,-84,-85.5,-87,-88.5,-90,-91.5,-93.5,-95.5]],
[2010,[-82.5,-84.5,-86,-87.5,-89,-90.5,-92,-94,-96.5,-99]],
[2078,[-83,-85,-86.5,-88,-89.5,-91,-92.5,-94,-96,-98.5]],
[2148,[-83.5,-85.5,-87,-88.5,-90,-91.5,-93,-95,-97,-99.5]],
[2221,[-83.5,-85,-86.5,-88,-89.5,-91,-92.5,-94,-96,-98]],
[2296,[-84.5,-86,-87.5,-89,-90.5,-92,-93.5,-95.5,-97.5,-100]],
[2374,[-84,-86,-87.5,-89,-90.5,-92,-93.5,-95,-97,-99]],
[2454,[-85,-86.5,-88,-89.5,-91,-92.5,-94,-96,-98.5]],
[2537,[-83,-85,-87,-88.5,-90,-91.5,-93,-94.5,-96.5,-99]],
[2623,[-79,-81,-83,-85,-87,-89,-91,-93,-95]],
[2803,[-89,-91,-93,-95,-97,-99,-101,-103,-105,-107]],
[2898,[-90.5,-92.5,-94.5,-96.5,-98.5,-100.5,-102.5,-104.5,-106.5,-108.5]],
[2996,[-89,-91,-93,-95,-97,-99,-101,-103,-105]],
[3097,[-87.5,-89.5,-91.5,-93.5,-95.5,-97.5,-99.5,-101.5]],
[3202,[-86,-88,-90,-92,-94,-96,-98,-100]],
[3310,[-87,-89,-91,-93,-95,-97,-99]],
[3781,[-92,-94,-96,-98,-100,-102,-104,-106,-108,-110,-112]],
[3908,[-91.5,-93.5,-95.5,-97.5,-99.5,-101.5,-103.5,-105.5,-107.5]],
[4040,[-92.5,-94.5,-96.5,-98.5,-100.5,-102.5,-104.5]],
[4178,[-92,-94,-96,-98,-100,-102]],
[4319,[-92.5,-94.5,-96.5,-98.5,-100.5,-102.5]],
[4465,[-93.5,-95.5,-97.5,-99.5,-101.5,-103.5,-105.5]],
[4616,[-92.5,-94.5,-96.5,-98.5,-100.5,-102.5,-104.5]],
[4772,[-91,-93,-95,-97,-99,-101,-103]],
[4933,[-89,-91,-93,-95,-97,-99,-101]],
[5100,[-92.5,-94.5,-96.5,-98.5,-100.5,-102.5]],
[5272,[-92,-94,-96,-98,-100,-102,-104]],
[5450,[-93.5,-95.5,-97.5,-99.5,-101.5,-103.5]],
[5826,[-91,-93,-95,-97,-99,-101,-103,-105,-107,-109]],
[6022,[-89,-91,-93,-95,-97,-99,-101,-103,-105,-107,-109,-111,-113]],
[6227,[-88,-90,-92,-94,-96,-98,-100,-102,-104,-106,-108,-110,-112,-114,-116]],
[6437,[-89,-91,-93,-95,-97,-99,-101,-103,-105,-107,-109,-111]],
[6880,[-87.5,-89.5,-91.5,-93.5,-95.5,-97.5,-99.5,-101.5,-103.5,-105.5,-107.5,-109.5,-111.5,-113.5,-115.5]],
[7113,[-90,-92,-94,-96,-98,-100,-102,-104,-106,-108,-110,-112,-114]],
[7353,[-93,-95,-97,-99,-101,-103,-105,-107,-109,-111]]
];

const expDense = expColumns.flatMap(c => c[1].map(p => [c[0], p]))
  .concat(expColumnsB.flatMap(c => c[1].map(p => [c[0], p])));
const xGridData = xMinorTicks.map(v => [v, Y_MIN, 1]).concat(xMajorTicks.slice(1).map(v => [v, Y_MIN, 0]));

const chart = echarts.init(document.getElementById('c'), null, {renderer: 'canvas'});
const legendText = {fontFamily: FONT, fontSize: 21.5, color: '#000', lineHeight: 24};
const axisBlack = {color: '#000', width: 1};
const dotted = [1.5, 8.3];

chart.setOption({
  animation: false,
  backgroundColor: '#fff',
  textStyle: {fontFamily: FONT},
  grid: {left: 100, right: 0, top: 12, bottom: 70, containLabel: false, outerBoundsMode: 'none'},
  xAxis: [{
    type: 'log', logBase: 10, min: X_MIN, max: X_MAX, position: 'bottom',
    name: xTitle, nameLocation: 'middle', nameGap: 44,
    nameTextStyle: {fontFamily: FONT, fontSize: 21.5, color: '#000', padding: [0, 5, 0, 0]},
    axisLine: {show: true, lineStyle: axisBlack},
    axisTick: {show: true, inside: true, length: 9, lineStyle: axisBlack},
    splitLine: {show: false},
    axisLabel: {
      show: true, margin: 13, showMaxLabel: false, color: '#000',
      formatter: v => xMajorTicks.indexOf(v) >= 0 ? '{b|10}{s|' + Math.round(Math.log10(v)) + '}' : '',
      rich: {
        b: {fontFamily: FONT, fontSize: 19.5, color: '#000', lineHeight: 24, verticalAlign: 'bottom'},
        s: {fontFamily: FONT, fontSize: 13.5, color: '#000', lineHeight: 14, verticalAlign: 'top', padding: [0, 0, 0, 1]}
      }
    }
  }, {
    type: 'log', logBase: 10, min: X_MIN, max: X_MAX, position: 'top',
    axisLine: {show: true, lineStyle: axisBlack},
    axisTick: {show: true, inside: true, length: 9, lineStyle: axisBlack},
    axisLabel: {show: false}, splitLine: {show: false}
  }],
  yAxis: [{
    type: 'value', min: Y_MIN, max: Y_MAX, interval: Y_STEP,
    name: yTitle, nameLocation: 'middle', nameGap: 66, nameRotate: 90,
    nameTextStyle: {fontFamily: FONT, fontSize: 21.5, color: '#000'},
    axisLine: {show: true, lineStyle: axisBlack},
    axisTick: {show: true, inside: true, length: 8, lineStyle: axisBlack},
    axisLabel: {
      show: true, margin: 8, color: '#000', fontFamily: FONT, fontSize: 19.5,
      formatter: v => yTicks.indexOf(v) >= 0 ? String(v).replace('-', '\u2212') : ''
    },
    splitLine: {show: true, lineStyle: {color: '#333', width: 1, type: dotted}}
  }],
  legend: [
    {data: [seriesNames[0]], left: 206.5, top: 323, padding: 0, itemWidth: 5, itemHeight: 5, icon: 'circle', selectedMode: false, textStyle: Object.assign({padding: [0, 0, 0, 31.5]}, legendText), z: 60},
    {data: [seriesNames[1]], left: 206.5, top: 353, padding: 0, itemWidth: 5, itemHeight: 5, icon: 'circle', selectedMode: false, textStyle: Object.assign({padding: [0, 0, 0, 31.5]}, legendText), z: 60},
    {data: [seriesNames[2]], left: 176, top: 384, padding: 0, itemWidth: 65, itemHeight: 4.5, icon: 'rect', selectedMode: false, textStyle: legendText, z: 60}
  ],
  graphic: [{
    type: 'rect', z: 50, silent: true,
    shape: {x: 162.5, y: 314.5, width: 263, height: 99},
    style: {fill: '#fff', stroke: '#000', lineWidth: 1}
  }],
  series: [
    {
      type: 'custom', name: 'xgrid', silent: true, z: 1, clip: false,
      xAxisIndex: 0, yAxisIndex: 0,
      data: xGridData, encode: {x: 0, y: 1},
      renderItem: (params, api) => {
        const cs = params.coordSys;
        const x = Math.round(api.coord([api.value(0), Y_MIN])[0]) + 0.5;
        const top = cs.y, bot = cs.y + cs.height;
        const ch = [{type: 'line', shape: {x1: x, y1: top, x2: x, y2: bot}, style: {stroke: '#333', lineWidth: 1, lineDash: dotted}}];
        if (api.value(2) === 1) {
          ch.push({type: 'line', shape: {x1: x, y1: bot, x2: x, y2: bot - 4.5}, style: {stroke: '#000', lineWidth: 1}});
          ch.push({type: 'line', shape: {x1: x, y1: top, x2: x, y2: top + 4.5}, style: {stroke: '#000', lineWidth: 1}});
        }
        return {type: 'group', children: ch};
      }
    },
    {
      type: 'scatter', name: seriesNames[0], data: expSparse, z: 3,
      symbol: 'circle', symbolSize: 5, itemStyle: {color: '#000', opacity: 1},
      emphasis: {disabled: true}
    },
    {
      type: 'scatter', name: seriesNames[0], data: expDense, z: 3,
      symbol: 'circle', symbolSize: 6, itemStyle: {color: '#000', opacity: 1},
      emphasis: {disabled: true}
    },
    {
      type: 'scatter', name: seriesNames[1], data: losPoints, z: 4,
      symbol: 'circle', symbolSize: 5, itemStyle: {color: '#00ee00', opacity: 1},
      emphasis: {disabled: true}
    },
    {
      type: 'line', name: seriesNames[2], data: modelCurve, z: 5,
      showSymbol: false, symbol: 'none', smooth: false, clip: true,
      lineStyle: {color: '#0000ff', width: 4.5}, itemStyle: {color: '#0000ff'},
      emphasis: {disabled: true}
    }
  ]
});
</script>
</body></html>
